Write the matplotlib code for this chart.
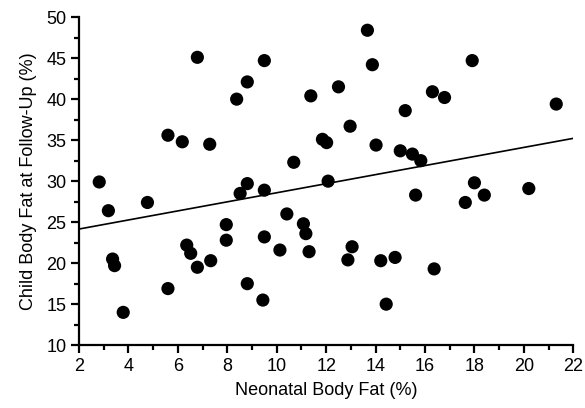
import matplotlib
matplotlib.use("Agg")
import matplotlib.pyplot as plt
from matplotlib.ticker import MultipleLocator

plt.rcParams['font.family'] = ['Liberation Sans', 'DejaVu Sans']

neonatal_fat = [2.82, 3.19, 3.36, 3.44, 3.79, 4.77, 5.60, 5.60, 6.18, 6.36,
                6.52, 6.79, 6.79, 7.29, 7.33, 7.96, 7.96, 8.38, 8.52, 8.81,
                8.81, 8.81, 9.44, 9.50, 9.50, 9.50, 10.13, 10.41, 10.69, 11.08,
                11.18, 11.31, 11.38, 11.85, 12.02, 12.08, 12.50, 12.88, 12.97, 13.05,
                13.67, 13.87, 14.02, 14.21, 14.43, 14.79, 15.00, 15.20, 15.49, 15.62,
                15.83, 16.30, 16.37, 16.79, 17.63, 17.91, 18.00, 18.40, 20.20, 21.31]
child_fat = [29.9, 26.4, 20.5, 19.7, 14.0, 27.4, 35.6, 16.9, 34.8, 22.2,
             21.2, 45.1, 19.5, 34.5, 20.3, 24.7, 22.8, 40.0, 28.5, 42.1,
             29.7, 17.5, 15.5, 44.7, 28.9, 23.2, 21.6, 26.0, 32.3, 24.8,
             23.6, 21.4, 40.4, 35.1, 34.7, 30.0, 41.5, 20.4, 36.7, 22.0,
             48.4, 44.2, 34.4, 20.3, 15.0, 20.7, 33.7, 38.6, 33.3, 28.3,
             32.5, 40.9, 19.3, 40.2, 27.4, 44.7, 29.8, 28.3, 29.1, 39.4]

fit_x = [2, 22]
fit_y = [24.16, 35.22]

fig = plt.figure(figsize=(5.85, 4.08), dpi=100)
ax = fig.add_axes([0.135, 0.154, 0.845, 0.804])

ax.scatter(neonatal_fat, child_fat, s=90, color='black', edgecolors='none', zorder=3)
ax.plot(fit_x, fit_y, color='black', lw=1.2, zorder=2)

ax.set_xlim(2, 22)
ax.set_ylim(10, 50)
ax.xaxis.set_major_locator(MultipleLocator(2))
ax.xaxis.set_minor_locator(MultipleLocator(1))
ax.yaxis.set_major_locator(MultipleLocator(5))
ax.yaxis.set_minor_locator(MultipleLocator(2.5))

for s in ['top', 'right']:
    ax.spines[s].set_visible(False)
for s in ['left', 'bottom']:
    ax.spines[s].set_linewidth(1.6)
ax.tick_params(which='major', direction='out', length=6, width=1.6, labelsize=13, pad=3)
ax.tick_params(which='minor', direction='out', length=3.5, width=1.6)

ax.set_xlabel('Neonatal Body Fat (%)', fontsize=13, labelpad=5)
ax.set_ylabel('Child Body Fat at Follow-Up (%)', fontsize=13, labelpad=7)

fig.savefig('out.png', dpi=100)
